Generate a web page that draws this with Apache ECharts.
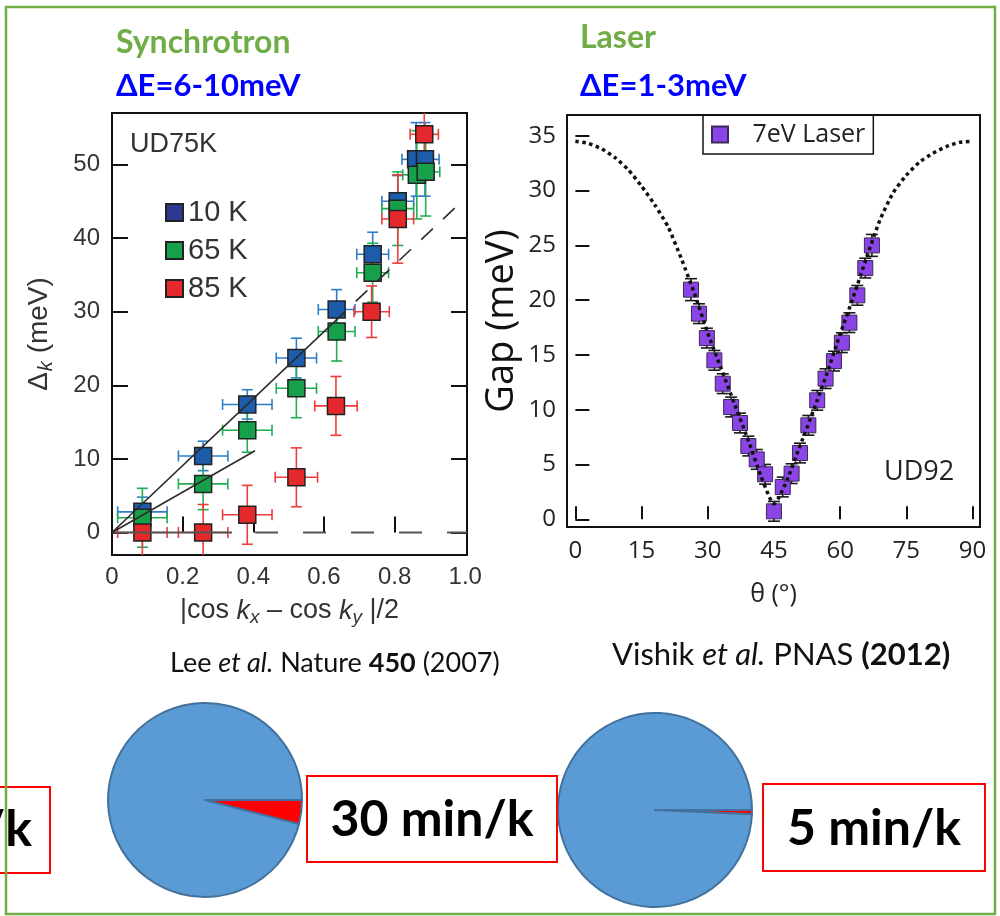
<!DOCTYPE html>
<html>
<head>
<meta charset="utf-8">
<script src="https://cdn.jsdelivr.net/npm/echarts@6/dist/echarts.min.js"></script>
<style>
html, body { margin: 0; padding: 0; background: #ffffff; }
#chart { width: 1000px; height: 916px; }
</style>
</head>
<body>
<div id="chart"></div>
<script>
// ---------- Left panel: Δk vs |cos kx − cos ky|/2 (UD75K) ----------
const leftXTicks = [0, 0.2, 0.4, 0.6, 0.8, 1.0];
const leftYTicks = [0, 10, 20, 30, 40, 50];

const temps = ['10 K', '65 K', '85 K'];

const k10X  = [0.086, 0.258, 0.383, 0.522, 0.636, 0.738, 0.809, 0.861, 0.886];
const k10Y  = [2.8, 10.4, 17.4, 23.7, 30.3, 37.8, 45.0, 50.7, 50.7];
const k10Ex = [0.07, 0.07, 0.07, 0.057, 0.052, 0.045, 0.045, 0.04, 0.04];
const k10Ey = [2.0, 2.0, 2.0, 2.7, 2.7, 3.0, 3.5, 5.0, 5.0];

const k65X  = [0.086, 0.258, 0.383, 0.522, 0.636, 0.738, 0.809, 0.863, 0.888];
const k65Y  = [2.0, 6.6, 13.9, 19.6, 27.3, 35.3, 44.0, 48.6, 49.0];
const k65Ex = [0.07, 0.07, 0.07, 0.057, 0.052, 0.045, 0.045, 0.04, 0.04];
const k65Ey = [4.0, 3.5, 3.0, 4.0, 4.0, 4.0, 5.0, 6.0, 6.0];

const k85X  = [0.086, 0.258, 0.383, 0.522, 0.634, 0.735, 0.809, 0.884];
const k85Y  = [0.0, 0.0, 2.4, 7.5, 17.2, 30.0, 42.6, 54.1];
const k85Ex = [0.07, 0.07, 0.07, 0.06, 0.06, 0.05, 0.045, 0.04];
const k85Ey = [3.7, 3.8, 4.0, 4.0, 4.0, 3.5, 6.0, 3.5];

// straight guide lines through the origin
const steepSolid  = [[0, 0], [0.66, 30.0]];
const steepDashed = [[0.69, 31.4], [0.975, 44.3]];
const shallowLine = [[0, 0], [0.405, 11.1]];
const zeroSolid   = [[0, 0], [0.34, 0]];
const zeroDashed  = [[0.405, 0], [1.005, 0]];

// ---------- Right panel: gap vs Fermi-surface angle (UD92) ----------
const thetaTicks = [0, 15, 30, 45, 60, 75, 90];
const gapTicks = [0, 5, 10, 15, 20, 25, 30, 35];

const laserTheta = [26.2, 28.0, 29.8, 31.5, 33.4, 35.3, 37.3, 39.2, 41.1, 43.0, 45.0,
                    47.0, 49.0, 50.9, 52.8, 54.8, 56.7, 58.6, 60.4, 62.1, 63.9, 65.7, 67.2];
const laserGap   = [20.96, 18.77, 16.54, 14.51, 12.38, 10.25, 8.79, 6.69, 5.47, 4.11, 0.73,
                    2.95, 4.17, 6.05, 8.58, 10.86, 12.84, 14.44, 16.12, 17.95, 20.44, 22.93, 25.0];
const laserErr   = [1.0, 0.9, 0.9, 0.9, 0.9, 0.9, 0.9, 0.9, 0.9, 0.9, 0.9,
                    0.9, 0.9, 0.9, 0.9, 0.9, 0.9, 0.9, 0.9, 0.9, 0.9, 0.9, 1.0];

const fitTheta = [0, 3, 6, 9, 12, 15, 18, 21, 24, 27, 30, 33, 36, 39, 42, 44, 45,
                  46, 48, 51, 54, 57, 60, 63, 66, 69, 72, 75, 78, 81, 84, 87, 90];
const fitGap   = [34.5, 34.3, 33.8, 33.0, 31.9, 30.4, 28.7, 26.7, 23.8, 20.6, 17.0, 13.8, 10.6, 7.4, 4.0, 2.0, 1.4,
                  1.9, 3.6, 6.8, 10.0, 13.3, 16.9, 20.3, 23.9, 27.3, 29.8, 31.4, 32.6, 33.4, 34.0, 34.4, 34.5];

// ---------- Bottom: acquisition time per k-point ----------
const scanMinutes = [30, 5];
const restMinutes = [720, 720];

// ------------------------------------------------------------
const ARIAL = "'Liberation Sans', Arial, sans-serif";
const MYRIAD = "'Open Sans', 'Noto Sans', sans-serif";
const CALIBRI = "Lato, 'Open Sans', sans-serif";

const zip = (xs, ys, ex, ey) => xs.map((x, i) => [x, ys[i], ex ? ex[i] : 0, ey[i]]);

function errorBarRenderer(color, capPx, width) {
  return function (params, api) {
    const x = api.value(0), y = api.value(1), dx = api.value(2), dy = api.value(3);
    const c = api.coord([x, y]);
    const style = { stroke: color, lineWidth: width };
    const kids = [];
    if (dx > 0) {
      const l = api.coord([x - dx, y]), r = api.coord([x + dx, y]);
      kids.push({ type: 'line', shape: { x1: l[0], y1: c[1], x2: r[0], y2: c[1] }, style });
      kids.push({ type: 'line', shape: { x1: l[0], y1: c[1] - capPx, x2: l[0], y2: c[1] + capPx }, style });
      kids.push({ type: 'line', shape: { x1: r[0], y1: c[1] - capPx, x2: r[0], y2: c[1] + capPx }, style });
    }
    if (dy > 0) {
      const t = api.coord([x, y + dy]), b = api.coord([x, y - dy]);
      kids.push({ type: 'line', shape: { x1: c[0], y1: t[1], x2: c[0], y2: b[1] }, style });
      kids.push({ type: 'line', shape: { x1: c[0] - capPx, y1: t[1], x2: c[0] + capPx, y2: t[1] }, style });
      kids.push({ type: 'line', shape: { x1: c[0] - capPx, y1: b[1], x2: c[0] + capPx, y2: b[1] }, style });
    }
    return { type: 'group', children: kids };
  };
}

function errSeries(data, color, capPx, width, xi, yi) {
  return {
    type: 'custom', xAxisIndex: xi, yAxisIndex: yi, data,
    encode: { x: 0, y: 1 }, clip: true, silent: true,
    renderItem: errorBarRenderer(color, capPx, width)
  };
}

function guide(data, color, width, type) {
  return {
    type: 'line', xAxisIndex: 0, yAxisIndex: 0, data, showSymbol: false, silent: true,
    lineStyle: { color, width, type }
  };
}

const tempColors = ['#1C5CAA', '#17A04A', '#E5282B'];
const tempErrColors = ['#2F7DC8', '#22AD52', '#EE3B3B'];
const tempData = [
  zip(k10X, k10Y, k10Ex, k10Ey),
  zip(k65X, k65Y, k65Ex, k65Ey),
  zip(k85X, k85Y, k85Ex, k85Ey)
];

const series = [
  guide(zeroSolid, '#555', 2, 'solid'),
  guide(zeroDashed, '#555', 2, [23, 25]),
  guide(steepSolid, '#2a2a2a', 1.6, 'solid'),
  guide(steepDashed, '#2a2a2a', 1.6, [16, 14]),
  guide(shallowLine, '#2a2a2a', 1.6, 'solid')
];
temps.forEach((name, i) => {
  series.push(errSeries(tempData[i], tempErrColors[i], 5.5, 1.6, 0, 0));
  series.push({
    type: 'scatter', name, xAxisIndex: 0, yAxisIndex: 0,
    data: tempData[i].map(d => [d[0], d[1]]),
    symbol: 'rect', symbolSize: 17,
    itemStyle: { color: tempColors[i], borderColor: '#222', borderWidth: 1.5, opacity: 1 }
  });
});

// right panel
series.push({
  type: 'line', xAxisIndex: 1, yAxisIndex: 2, silent: true,
  data: fitTheta.map((t, i) => [t, fitGap[i]]),
  showSymbol: false, smooth: 0.2,
  lineStyle: { color: '#111', width: 3.5, type: [3.5, 3.5] }
});
series.push(errSeries(laserTheta.map((t, i) => [t, laserGap[i], 0, laserErr[i]]), '#1a1a1a', 6, 1.6, 1, 2));
series.push({
  type: 'scatter', name: '7eV Laser', xAxisIndex: 1, yAxisIndex: 2,
  data: laserTheta.map((t, i) => [t, laserGap[i]]),
  symbol: 'rect', symbolSize: 15,
  itemStyle: { color: '#8B44E6', borderColor: '#3b2a55', borderWidth: 1, opacity: 1 }
});

// pies
const pieCenters = [[205, 800], [655, 810]];
scanMinutes.forEach((m, i) => {
  series.push({
    type: 'pie', center: pieCenters[i], radius: 97, startAngle: 0, clockwise: true,
    silent: true, label: { show: false }, labelLine: { show: false },
    emphasis: { disabled: true },
    itemStyle: { borderColor: '#41719C', borderWidth: 2 },
    data: [
      { value: m, itemStyle: { color: '#FF0000' } },
      { value: restMinutes[i], itemStyle: { color: '#5B9BD5' } }
    ]
  });
});

const tickLine = { color: '#111', width: 2 };

const option = {
  animation: false,
  backgroundColor: '#ffffff',
  grid: [
    { left: 112, top: 113, width: 355, height: 442, show: true, borderColor: '#111', borderWidth: 2, backgroundColor: 'transparent' },
    { left: 567, top: 115, width: 413, height: 412, show: true, borderColor: '#111', borderWidth: 2, backgroundColor: 'transparent' }
  ],
  xAxis: [
    {
      type: 'value', gridIndex: 0, min: 0, max: 1.005, position: 'bottom',
      axisLine: { show: false }, splitLine: { show: false },
      axisTick: { inside: true, length: 16, lineStyle: tickLine, customValues: [0.2, 0.4, 0.6, 0.8] },
      axisLabel: {
        customValues: leftXTicks, fontSize: 24, fontFamily: ARIAL, color: '#333', margin: 10,
        formatter: v => (v === 0 ? '0' : v.toFixed(1))
      },
      name: '{n||cos }{i|k}{s|x}{n| – cos }{i|k}{s|y}{n| |/2}',
      nameLocation: 'middle', nameGap: 40,
      nameTextStyle: {
        rich: {
          n: { fontSize: 27, fontFamily: ARIAL, color: '#333' },
          i: { fontSize: 27, fontFamily: ARIAL, fontStyle: 'italic', color: '#333' },
          s: { fontSize: 19, fontFamily: ARIAL, fontStyle: 'italic', color: '#333', padding: [13, 0, 0, 0] }
        }
      }
    },
    {
      type: 'value', gridIndex: 1, min: -1.9, max: 91.7, position: 'bottom',
      axisLine: { show: false }, splitLine: { show: false },
      axisTick: { inside: true, length: 13, lineStyle: tickLine, customValues: thetaTicks },
      axisLabel: { customValues: thetaTicks, fontSize: 24, fontFamily: MYRIAD, color: '#222', margin: 12 },
      name: 'θ (°)', nameLocation: 'middle', nameGap: 55,
      nameTextStyle: { fontSize: 25, fontFamily: MYRIAD, color: '#222' }
    }
  ],
  yAxis: [
    {
      type: 'value', gridIndex: 0, min: -3.06, max: 57.0, position: 'left',
      axisLine: { show: false }, splitLine: { show: false },
      axisTick: { inside: true, length: 16, lineStyle: tickLine, customValues: leftYTicks },
      axisLabel: { customValues: leftYTicks, fontSize: 24, fontFamily: ARIAL, color: '#333', margin: 12 },
      name: '{d|Δ}{k|k}{n| (meV)}', nameLocation: 'middle', nameRotate: 90, nameGap: 56,
      nameTextStyle: {
        rich: {
          d: { fontSize: 28, fontFamily: ARIAL, color: '#333' },
          k: { fontSize: 20, fontFamily: ARIAL, fontStyle: 'italic', color: '#333', padding: [13, 0, 0, 1] },
          n: { fontSize: 28, fontFamily: ARIAL, color: '#333' }
        }
      }
    },
    {
      type: 'value', gridIndex: 0, min: -3.06, max: 57.0, position: 'right',
      axisLine: { show: false }, splitLine: { show: false },
      axisTick: { inside: true, length: 16, lineStyle: tickLine, customValues: leftYTicks },
      axisLabel: { show: false }
    },
    {
      type: 'value', gridIndex: 1, min: -0.7, max: 36.9, position: 'left',
      axisLine: { show: false }, splitLine: { show: false },
      axisTick: { inside: true, length: 14, lineStyle: tickLine, customValues: gapTicks },
      axisLabel: { customValues: gapTicks, fontSize: 24, fontFamily: MYRIAD, color: '#222', margin: 11 },
      name: 'Gap (meV)', nameLocation: 'middle', nameRotate: 90, nameGap: 46,
      nameTextStyle: { fontSize: 38, fontFamily: MYRIAD, color: '#111' }
    }
  ],
  legend: [
    {
      data: [
        { name: '10 K', itemStyle: { color: '#2B3A8F' } },
        { name: '65 K' },
        { name: '85 K' }
      ],
      orient: 'vertical', left: 160, top: 193, itemWidth: 17, itemHeight: 17, itemGap: 9,
      icon: 'rect', selectedMode: false,
      textStyle: { fontSize: 29, fontFamily: ARIAL, color: '#333' }
    },
    {
      data: ['7eV Laser'], left: 703, top: 115, icon: 'rect', selectedMode: false,
      itemWidth: 16, itemHeight: 16, padding: [7, 8, 7, 8],
      borderColor: '#111', borderWidth: 1.5,
      formatter: n => '   ' + n,
      textStyle: { fontSize: 25, fontFamily: MYRIAD, color: '#222' }
    }
  ],
  graphic: [
    { type: 'text', left: 116, top: 27, style: { text: 'Synchrotron', font: "bold 32px " + CALIBRI, fill: '#70AD47' } },
    { type: 'text', left: 116, top: 70, style: { text: 'ΔE=6-10meV', font: "bold 31px " + CALIBRI, fill: '#0000FF' } },
    { type: 'text', left: 580, top: 22, style: { text: 'Laser', font: "bold 32px " + CALIBRI, fill: '#70AD47' } },
    { type: 'text', left: 580, top: 70, style: { text: 'ΔE=1-3meV', font: "bold 31px " + CALIBRI, fill: '#0000FF' } },
    { type: 'text', left: 130, top: 131, style: { text: 'UD75K', font: "27px " + ARIAL, fill: '#333' } },
    { type: 'text', left: 884, top: 459, style: { text: 'UD92', font: "27px " + MYRIAD, fill: '#222' } },
    {
      type: 'text', left: 170, top: 650,
      style: {
        text: '{n|Lee }{i|et al.}{n| Nature }{b|450}{n| (2007)}',
        rich: {
          n: { font: "27px " + CALIBRI, fill: '#111' },
          i: { font: "italic 27px " + CALIBRI, fill: '#111' },
          b: { font: "bold 27px " + CALIBRI, fill: '#111' }
        }
      }
    },
    {
      type: 'text', left: 612, top: 639,
      style: {
        text: '{n|Vishik }{i|et al.}{n| PNAS }{b|(2012)}',
        rich: {
          n: { font: "31px " + CALIBRI, fill: '#111' },
          i: { font: "italic 31px " + CALIBRI, fill: '#111' },
          b: { font: "bold 31px " + CALIBRI, fill: '#111' }
        }
      }
    },
    // time-per-k boxes
    { type: 'rect', z: 10, shape: { x: -10, y: 787, width: 60, height: 86 }, style: { fill: '#fff', stroke: '#FF0000', lineWidth: 2 } },
    { type: 'text', z: 11, x: 32, y: 830, style: { text: '/k', font: "bold 50px " + CALIBRI, fill: '#000', align: 'right', verticalAlign: 'middle' } },
    { type: 'rect', z: 10, shape: { x: 307, y: 776, width: 250, height: 86 }, style: { fill: '#fff', stroke: '#FF0000', lineWidth: 2 } },
    { type: 'text', z: 11, x: 432, y: 820, style: { text: scanMinutes[0] + ' min/k', font: "bold 50px " + CALIBRI, fill: '#000', align: 'center', verticalAlign: 'middle' } },
    { type: 'rect', z: 10, shape: { x: 763, y: 784, width: 222, height: 87 }, style: { fill: '#fff', stroke: '#FF0000', lineWidth: 2 } },
    { type: 'text', z: 11, x: 874, y: 829, style: { text: scanMinutes[1] + ' min/k', font: "bold 50px " + CALIBRI, fill: '#000', align: 'center', verticalAlign: 'middle' } },
    // outer frame
    { type: 'rect', z: 20, shape: { x: 6, y: 7, width: 989, height: 907 }, style: { fill: 'none', stroke: '#70AD47', lineWidth: 2.5 } }
  ],
  series
};

const chart = echarts.init(document.getElementById('chart'), null, { renderer: 'canvas' });
chart.setOption(option);
</script>
</body>
</html>
